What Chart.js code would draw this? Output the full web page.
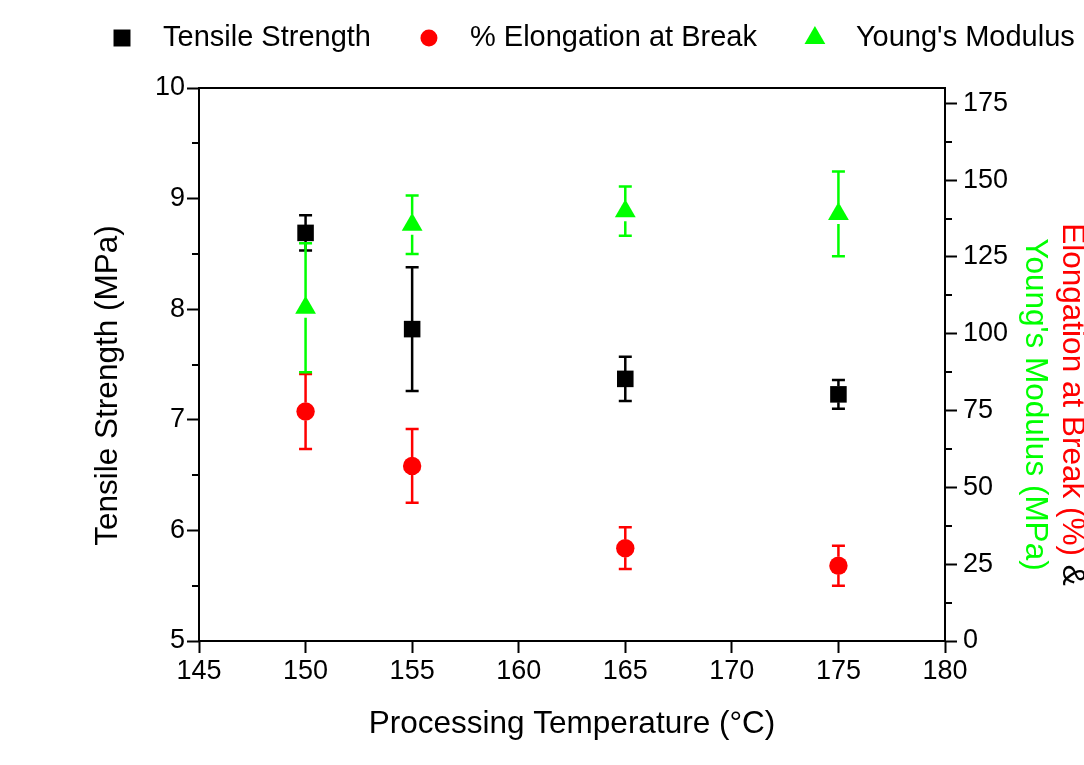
<!DOCTYPE html>
<html lang="en">
<head>
<meta charset="UTF-8">
<title>Tensile properties vs processing temperature</title>
<script src="https://cdn.jsdelivr.net/npm/chart.js"></script>
<style>
  body { margin: 0; background: #fff; }
  canvas { display: block; }
</style>
</head>
<body>
<canvas id="propsChart" width="1084" height="765"></canvas>
<script>
// processing temperature (°C)
const temps = [150, 155, 165, 175];

// tensile strength (MPa), left axis
const tensile = [8.69, 7.82, 7.37, 7.23];
const tensileErr = [0.16, 0.56, 0.20, 0.13];

// elongation at break (%), right axis
const elongation = [74.7, 57.0, 30.2, 24.5];
const elongationErr = [12.2, 12.0, 6.8, 6.5];

// young's modulus (MPa), right axis
const modulus = [108.5, 135.5, 139.9, 139.0];
const modulusErr = [21.0, 9.5, 8.0, 13.8];

// axis ticks
const xTicks = [145, 150, 155, 160, 165, 170, 175, 180];
const leftTicks = [5, 6, 7, 8, 9, 10];
const rightTicks = [0, 25, 50, 75, 100, 125, 150, 175];

const FONT = "'Liberation Sans', Arial, sans-serif";
const RED = '#ff0000';
const GREEN = '#00ff00';

const toPoints = ys => ys.map((y, i) => ({ x: temps[i], y: y }));
const setTicks = list => scale => { scale.ticks = list.map(v => ({ value: v })); };

// vertical error bars with caps, drawn under the markers
const errorBars = {
    id: 'errorBars',
    beforeDatasetsDraw(chart) {
        const ctx = chart.ctx;
        chart.data.datasets.forEach((ds, i) => {
            const meta = chart.getDatasetMeta(i);
            const yScale = chart.scales[ds.yAxisID];
            ctx.save();
            ctx.strokeStyle = ds.backgroundColor;
            ctx.lineWidth = 2.5;
            meta.data.forEach((pt, j) => {
                const v = ds.data[j].y;
                const e = ds.errors[j];
                const top = yScale.getPixelForValue(v + e);
                const bot = yScale.getPixelForValue(v - e);
                ctx.beginPath();
                if (pt.y - top > ds.errGap) {
                    ctx.moveTo(pt.x, pt.y - ds.errGap);
                    ctx.lineTo(pt.x, top);
                }
                if (bot - pt.y > ds.errGap) {
                    ctx.moveTo(pt.x, pt.y + ds.errGap);
                    ctx.lineTo(pt.x, bot);
                }
                ctx.moveTo(pt.x - 6.5, top);
                ctx.lineTo(pt.x + 6.5, top);
                ctx.moveTo(pt.x - 6.5, bot);
                ctx.lineTo(pt.x + 6.5, bot);
                ctx.stroke();
            });
            ctx.restore();
        });
    }
};

function drawMarker(ctx, style, x, y, r) {
    ctx.beginPath();
    if (style === 'rect') {
        const s = r * Math.SQRT1_2;
        ctx.rect(x - s, y - s, 2 * s, 2 * s);
    } else if (style === 'circle') {
        ctx.arc(x, y, r, 0, Math.PI * 2);
    } else {
        const a = Math.PI * 2 / 3;
        ctx.moveTo(x, y - r);
        ctx.lineTo(x + Math.sin(a) * r, y - Math.cos(a) * r);
        ctx.lineTo(x - Math.sin(a) * r, y - Math.cos(a) * r);
        ctx.closePath();
    }
    ctx.fill();
}

// frame, minor ticks, legend and y axis titles
const decorations = {
    id: 'decorations',
    afterDraw(chart) {
        const ctx = chart.ctx;
        const area = chart.chartArea;
        ctx.save();

        // box around the plot
        ctx.strokeStyle = '#000';
        ctx.lineWidth = 2;
        ctx.strokeRect(area.left, area.top, area.right - area.left, area.bottom - area.top);

        // minor ticks half way between the major ones
        const minor = (scale, list, x0, dir) => {
            for (let k = 0; k < list.length - 1; k++) {
                const yy = Math.round(scale.getPixelForValue((list[k] + list[k + 1]) / 2));
                ctx.beginPath();
                ctx.moveTo(x0, yy);
                ctx.lineTo(x0 + dir * 7, yy);
                ctx.stroke();
            }
        };
        minor(chart.scales.y, leftTicks, area.left, -1);
        minor(chart.scales.y2, rightTicks, area.right, 1);

        // legend
        ctx.font = '29px ' + FONT;
        ctx.textBaseline = 'middle';
        ctx.textAlign = 'left';
        let x = 122;
        const ly = 38;
        chart.data.datasets.forEach(ds => {
            ctx.fillStyle = ds.backgroundColor;
            const r = ds.pointStyle === 'rect' ? 12 : ds.pointStyle === 'circle' ? 8.5 : 12;
            drawMarker(ctx, ds.pointStyle, x, ly, r);
            ctx.fillStyle = '#000';
            ctx.fillText(ds.label, x + 41, ly);
            x += 41 + ctx.measureText(ds.label).width + 58;
        });

        // left title
        const midY = (area.top + area.bottom) / 2;
        ctx.font = '31.5px ' + FONT;
        ctx.textAlign = 'center';
        ctx.fillStyle = '#000';
        ctx.save();
        ctx.translate(area.left - 91, midY + 21);
        ctx.rotate(-Math.PI / 2);
        ctx.fillText('Tensile Strength (MPa)', 0, 0);
        ctx.restore();

        // right title, two lines in the series colours
        const redPart = 'Elongation at Break (%) ';
        const blackPart = '&';
        const full = ctx.measureText(redPart + blackPart).width;
        ctx.textAlign = 'left';
        ctx.save();
        ctx.translate(area.right + 127, midY + 40);
        ctx.rotate(Math.PI / 2);
        ctx.fillStyle = RED;
        ctx.fillText(redPart, -full / 2, 0);
        ctx.fillStyle = '#000';
        ctx.fillText(blackPart, -full / 2 + ctx.measureText(redPart).width, 0);
        ctx.restore();

        ctx.save();
        ctx.translate(area.right + 90, midY + 40);
        ctx.rotate(Math.PI / 2);
        ctx.textAlign = 'center';
        ctx.fillStyle = GREEN;
        ctx.fillText("Young's Modulus (MPa)", 0, 0);
        ctx.restore();

        ctx.restore();
    }
};

const tickFont = { size: 27, family: FONT };
const tickGrid = { drawOnChartArea: false, tickLength: 12, tickWidth: 2, tickColor: '#000' };

new Chart(document.getElementById('propsChart'), {
    type: 'scatter',
    data: {
        datasets: [
            {
                label: 'Tensile Strength',
                data: toPoints(tensile),
                errors: tensileErr,
                errGap: 8,
                yAxisID: 'y',
                pointStyle: 'rect',
                pointRadius: 11.7,
                backgroundColor: '#000000',
                borderWidth: 0
            },
            {
                label: '% Elongation at Break',
                data: toPoints(elongation),
                errors: elongationErr,
                errGap: 9,
                yAxisID: 'y2',
                pointStyle: 'circle',
                pointRadius: 9.2,
                backgroundColor: RED,
                borderWidth: 0
            },
            {
                label: "Young's Modulus",
                data: toPoints(modulus),
                errors: modulusErr,
                errGap: 10,
                yAxisID: 'y2',
                pointStyle: 'triangle',
                pointRadius: 12,
                backgroundColor: GREEN,
                borderWidth: 0
            }
        ]
    },
    options: {
        responsive: false,
        animation: false,
        layout: { padding: { top: 88, right: 0, bottom: 0, left: 0 } },
        plugins: {
            legend: { display: false },
            tooltip: { enabled: false }
        },
        scales: {
            x: {
                type: 'linear',
                min: 145,
                max: 180,
                afterBuildTicks: setTicks(xTicks),
                afterFit: s => { s.height = 124; },
                border: { display: false },
                grid: tickGrid,
                ticks: { color: '#000', font: tickFont, padding: 2, autoSkip: false, maxRotation: 0 },
                title: {
                    display: true,
                    text: 'Processing Temperature (°C)',
                    color: '#000',
                    font: { size: 31.5, family: FONT },
                    padding: { top: 0, bottom: 22 }
                }
            },
            y: {
                position: 'left',
                min: 5,
                max: 10,
                afterBuildTicks: setTicks(leftTicks),
                afterFit: s => { s.width = 199; },
                border: { display: false },
                grid: tickGrid,
                ticks: { color: '#000', font: tickFont, padding: 2 }
            },
            y2: {
                position: 'right',
                min: 0,
                max: 180,
                afterBuildTicks: setTicks(rightTicks),
                afterFit: s => { s.width = 139; },
                border: { display: false },
                grid: tickGrid,
                ticks: { color: '#000', font: tickFont, padding: 6 }
            }
        }
    },
    plugins: [errorBars, decorations]
});
</script>
</body>
</html>
